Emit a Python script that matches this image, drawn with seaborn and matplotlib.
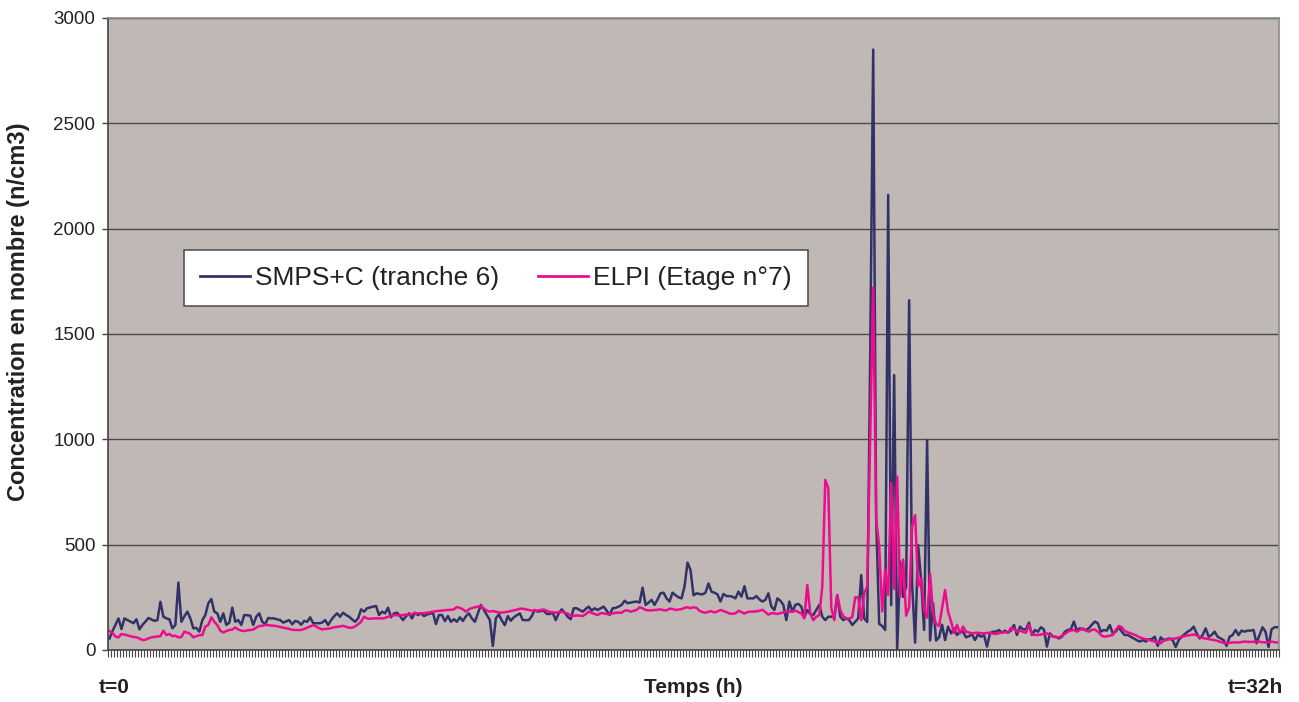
import numpy as np
import pandas as pd
import matplotlib
matplotlib.use("Agg")
import matplotlib.pyplot as plt
import seaborn as sns
from matplotlib.lines import Line2D

# ---- data, one value per time step, t = 0 .. 32 h ----
smps = [
    55, 90, 120, 150, 100, 150, 142, 135, 127, 146,
    98, 119, 135, 152, 145, 138, 142, 229, 158, 150,
    146, 103, 119, 320, 134, 160, 182, 150, 103, 105,
    87, 142, 166, 222, 242, 182, 174, 134, 174, 119,
    130, 201, 134, 142, 119, 166, 165, 163, 119, 158,
    174, 134, 123, 152, 150, 150, 145, 142, 130, 136,
    142, 122, 138, 134, 120, 138, 134, 155, 127, 127,
    127, 130, 142, 119, 142, 160, 174, 158, 177, 166,
    158, 145, 134, 150, 193, 182, 198, 202, 206, 209,
    166, 182, 174, 201, 155, 174, 177, 161, 142, 160,
    174, 150, 177, 166, 174, 161, 169, 172, 177, 123,
    166, 166, 137, 161, 134, 146, 134, 155, 138, 160,
    174, 150, 134, 174, 214, 190, 166, 142, 19, 150,
    169, 140, 118, 161, 139, 155, 165, 174, 142, 142,
    142, 161, 190, 182, 185, 187, 171, 171, 177, 142,
    174, 193, 177, 158, 146, 198, 198, 190, 182, 195,
    206, 187, 198, 190, 198, 206, 187, 166, 198, 200,
    206, 214, 234, 222, 225, 228, 230, 225, 296, 214,
    225, 238, 214, 240, 269, 272, 245, 230, 272, 260,
    250, 245, 301, 415, 380, 260, 269, 266, 264, 272,
    316, 277, 272, 264, 230, 266, 256, 256, 253, 245,
    277, 253, 303, 245, 245, 245, 256, 240, 230, 238,
    269, 206, 190, 245, 234, 214, 142, 230, 182, 214,
    219, 206, 155, 190, 170, 166, 190, 214, 158, 142,
    158, 158, 158, 260, 158, 142, 150, 142, 119, 134,
    150, 356, 150, 133, 1400, 2850, 620, 124, 114, 95,
    2160, 213, 1305, 0, 420, 252, 300, 1660, 311, 35,
    498, 331, 95, 996, 45, 222, 45, 60, 120, 47,
    111, 79, 103, 71, 87, 87, 60, 66, 74, 47,
    74, 63, 71, 16, 79, 87, 87, 95, 82, 92,
    82, 92, 119, 71, 111, 98, 98, 130, 71, 95,
    87, 108, 98, 16, 79, 63, 63, 55, 63, 87,
    95, 98, 135, 92, 103, 98, 95, 103, 120, 135,
    127, 87, 95, 92, 119, 79, 87, 108, 87, 71,
    71, 63, 55, 47, 40, 47, 40, 51, 51, 63,
    19, 60, 47, 51, 55, 47, 14, 47, 63, 75,
    87, 95, 111, 79, 55, 71, 103, 63, 71, 87,
    63, 55, 47, 19, 63, 71, 95, 71, 92, 87,
    92, 92, 95, 32, 71, 108, 87, 14, 98, 108,
    108,
]

elpi = [
    90, 80, 64, 60, 76, 73, 70, 65, 62, 60,
    55, 47, 49, 55, 60, 62, 64, 66, 92, 71,
    76, 66, 68, 60, 62, 87, 82, 76, 60, 66,
    70, 71, 111, 119, 155, 134, 118, 92, 83, 90,
    95, 97, 107, 97, 92, 90, 93, 95, 97, 106,
    114, 114, 120, 118, 116, 115, 113, 109, 106, 103,
    100, 96, 95, 95, 95, 100, 106, 112, 118, 112,
    103, 98, 100, 101, 104, 108, 110, 112, 115, 110,
    106, 106, 112, 122, 134, 158, 150, 148, 150, 150,
    150, 150, 152, 158, 162, 166, 165, 164, 166, 168,
    169, 171, 174, 174, 174, 175, 177, 179, 182, 184,
    186, 187, 189, 190, 191, 193, 204, 200, 193, 182,
    193, 199, 203, 206, 209, 197, 187, 182, 185, 182,
    178, 177, 180, 182, 185, 188, 191, 196, 196, 193,
    190, 187, 187, 187, 190, 192, 186, 181, 179, 177,
    180, 181, 177, 173, 163, 162, 164, 163, 161, 170,
    182, 176, 171, 166, 175, 174, 171, 171, 173, 177,
    177, 177, 187, 188, 182, 186, 190, 203, 198, 190,
    188, 188, 190, 191, 193, 189, 188, 196, 195, 190,
    192, 194, 200, 203, 198, 203, 200, 186, 180, 177,
    182, 184, 178, 183, 190, 185, 180, 173, 172, 174,
    186, 180, 173, 180, 182, 182, 184, 186, 191, 180,
    168, 175, 174, 171, 175, 178, 181, 182, 182, 187,
    180, 174, 150, 309, 174, 142, 158, 166, 300, 807,
    770, 200, 142, 261, 190, 161, 150, 150, 155, 250,
    250, 142, 270, 300, 1000, 1720, 620, 490, 183, 380,
    262, 793, 291, 823, 252, 429, 163, 203, 587, 640,
    301, 340, 193, 154, 360, 173, 124, 114, 200, 285,
    182, 135, 80, 119, 79, 111, 87, 83, 79, 81,
    82, 80, 79, 81, 82, 78, 76, 80, 82, 85,
    82, 105, 100, 87, 92, 86, 82, 119, 74, 72,
    71, 74, 76, 79, 72, 63, 61, 60, 68, 76,
    87, 92, 95, 87, 95, 103, 92, 87, 95, 98,
    87, 72, 63, 65, 68, 71, 95, 114, 108, 90,
    84, 79, 74, 68, 60, 55, 51, 48, 44, 40,
    36, 32, 44, 48, 51, 53, 55, 58, 62, 66,
    69, 71, 73, 70, 60, 57, 54, 52, 49, 47,
    43, 38, 34, 32, 34, 36, 36, 36, 38, 40,
    39, 38, 39, 40, 39, 37, 36, 38, 40, 37,
    36,
]

series_names = ["SMPS+C (tranche 6)", "ELPI (Etage n°7)"]
series_colors = ["#323268", "#EE0C8E"]
y_ticks = [0, 500, 1000, 1500, 2000, 2500, 3000]
x_first_label = "t=0"
x_last_label = "t=32h"

df = pd.concat([
    pd.DataFrame({"pas": np.arange(len(smps)), "valeur": smps, "serie": series_names[0]}),
    pd.DataFrame({"pas": np.arange(len(elpi)), "valeur": elpi, "serie": series_names[1]}),
], ignore_index=True)
n = max(len(smps), len(elpi))

# ---- figure ----
plt.rcParams["font.family"] = ["Liberation Sans", "DejaVu Sans"]
W, H = 1299, 702
fig = plt.figure(figsize=(W / 100, H / 100), dpi=100)
ax = fig.add_axes([108 / W, 52 / H, 1171 / W, 632 / H])
ax.set_facecolor("#C0B8B5")

sns.lineplot(data=df, x="pas", y="valeur", hue="serie", hue_order=series_names,
             palette=dict(zip(series_names, series_colors)), estimator=None,
             sort=False, linewidth=1.8, ax=ax, legend=False)

ax.set_xlim(-0.5, n - 0.5)
ax.set_ylim(0, 3000)
ax.set_yticks(y_ticks)
ax.set_yticklabels([str(v) for v in y_ticks], fontsize=13.5, color="#222222")
ax.yaxis.grid(True, color="#4a4a4a", linewidth=1.0)
ax.xaxis.grid(False)
ax.set_axisbelow(True)

ax.set_xticks([])
ax.set_xticks(np.arange(n + 1) - 0.5, minor=True)
ax.tick_params(axis="x", which="minor", length=5, width=0.8, color="#444444", direction="out")
ax.tick_params(axis="y", which="major", length=4, width=1.0, color="#444444", pad=5)

for s in ["left", "bottom"]:
    ax.spines[s].set_color("#444444")
    ax.spines[s].set_linewidth(1.2)
for s in ["top", "right"]:
    ax.spines[s].set_color("#8a8a8a")
    ax.spines[s].set_linewidth(1.2)

ax.set_ylabel("Concentration en nombre (n/cm3)", fontsize=17, fontweight="bold", color="#222222")
ax.yaxis.set_label_coords(-0.0665, 0.535)
ax.set_xlabel("Temps (h)", fontsize=15, fontweight="bold", color="#222222")
ax.xaxis.label.set_verticalalignment("center")
ax.xaxis.set_label_coords(0.5, -0.06)

ax.text(-0.008, -0.06, x_first_label, transform=ax.transAxes, ha="left", va="center",
        fontsize=15, fontweight="bold", color="#222222")
ax.text(1.003, -0.06, x_last_label, transform=ax.transAxes, ha="right", va="center",
        fontsize=15, fontweight="bold", color="#222222")

handles = [Line2D([0], [0], color=c, linewidth=2.0) for c in series_colors]
leg = ax.legend(handles, series_names, loc="upper left", bbox_to_anchor=(0.0649, 0.633),
                ncol=2, fontsize=19, frameon=True, fancybox=False, framealpha=1,
                edgecolor="#555555", handlelength=1.9, handletextpad=0.2,
                columnspacing=1.45, borderaxespad=0, borderpad=0.6)
leg.get_frame().set_linewidth(1.2)
for t in leg.get_texts():
    t.set_color("#222222")

fig.savefig("out.png", dpi=100, facecolor="white")
